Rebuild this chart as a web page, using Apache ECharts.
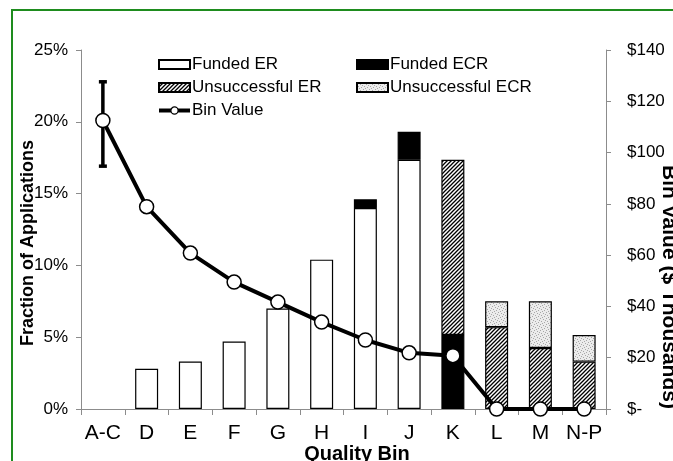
<!DOCTYPE html>
<html>
<head>
<meta charset="utf-8">
<script src="https://cdn.jsdelivr.net/npm/echarts@6/dist/echarts.min.js"></script>
<style>
html,body{margin:0;padding:0;background:#fff;}
#c{width:673px;height:461px;}
</style>
</head>
<body>
<div id="c"></div>
<script>
// ---- data ----
const categories = ['A-C','D','E','F','G','H','I','J','K','L','M','N-P'];
const fundedER      = ['-', 2.8, 3.3, 4.7, 7.0, 10.4, 14.0, 17.35, '-', '-', '-', '-'];
const fundedECR     = ['-', '-', '-', '-', '-', '-', 0.6, 1.95, 5.15, '-', '-', '-'];
const unsuccER      = ['-', '-', '-', '-', '-', '-', '-', '-', 12.2, 5.7, 4.25, 3.3];
const unsuccECR     = ['-', '-', '-', '-', '-', '-', '-', '-', '-', 1.8, 3.25, 1.85];
const binValue      = [112.5, 78.9, 60.8, 49.5, 41.7, 33.9, 26.9, 21.9, 20.8, 0, 0, 0];
const errCategory   = [0];
const errLow        = [94.7];
const errHigh       = [127.6];
const leftTicks     = [0, 5, 10, 15, 20, 25];
const rightTicks    = [0, 20, 40, 60, 80, 100, 120, 140];

// ---- patterns ----
function hatchPattern(){
  const c = document.createElement('canvas');
  c.width = 4; c.height = 4;
  const g = c.getContext('2d');
  g.fillStyle = '#fff'; g.fillRect(0,0,4,4);
  g.strokeStyle = '#000'; g.lineWidth = 1.3;
  g.beginPath();
  g.moveTo(-1,5); g.lineTo(5,-1);
  g.moveTo(-1,1); g.lineTo(1,-1);
  g.moveTo(3,5); g.lineTo(5,3);
  g.stroke();
  return c;
}
function dotPattern(){
  const c = document.createElement('canvas');
  c.width = 6; c.height = 6;
  const g = c.getContext('2d');
  g.fillStyle = '#ececec'; g.fillRect(0,0,6,6);
  g.fillStyle = '#a8a8a8';
  const pts = [[0,0],[3,1],[1,3],[4,4],[5,2],[2,5]];
  pts.forEach(p => g.fillRect(p[0],p[1],1,1));
  return c;
}
const hatch = {image: hatchPattern(), repeat: 'repeat'};
const dots = {image: dotPattern(), repeat: 'repeat'};

const FONT = '"Liberation Sans", Arial, sans-serif';
const chart = echarts.init(document.getElementById('c'), null, {renderer:'canvas'});
const barBase = {type:'bar', stack:'s', barWidth:23, yAxisIndex:0};
const legendText = {fontSize:17, color:'#000', fontFamily:FONT, lineHeight:17, padding:[0,0,0,-3]};

chart.setOption({
  animation:false,
  textStyle:{fontFamily:FONT},
  grid:{left:81, right:67, top:50, bottom:52, containLabel:false},
  legend:[
    {orient:'vertical', left:152, top:51, itemWidth:31, itemHeight:9, itemGap:6,
     textStyle:legendText,
     data:[{name:'Funded ER', icon:'rect'},{name:'Unsuccessful ER', icon:'rect'},
           {name:'Bin Value', lineStyle:{width:4, color:'#000'}, itemStyle:{color:'#fff', borderColor:'#000', borderWidth:1.2}}]},
    {orient:'vertical', left:351, top:51, itemWidth:31, itemHeight:9, itemGap:6,
     textStyle:legendText,
     data:[{name:'Funded ECR', icon:'rect'},{name:'Unsuccessful ECR', icon:'rect'}]}
  ],
  xAxis:{
    type:'category', data:categories,
    axisLine:{lineStyle:{color:'#8c8c8c', width:1}},
    axisTick:{show:true, length:6, lineStyle:{color:'#8c8c8c'}},
    axisLabel:{fontSize:21, color:'#000', margin:14, fontFamily:FONT, interval:0}
  },
  yAxis:[
    {type:'value', min:0, max:25, interval:5, position:'left',
     splitLine:{show:false},
     axisLine:{show:true, lineStyle:{color:'#8c8c8c'}},
     axisTick:{show:true, length:5, lineStyle:{color:'#8c8c8c'}},
     axisLabel:{fontSize:17, color:'#000', margin:13, fontFamily:FONT, formatter:v => v + '%'}},
    {type:'value', min:0, max:140, interval:20, position:'right',
     splitLine:{show:false},
     axisLine:{show:true, lineStyle:{color:'#8c8c8c'}},
     axisTick:{show:true, length:5, lineStyle:{color:'#8c8c8c'}},
     axisLabel:{fontSize:17, color:'#000', margin:21, fontFamily:FONT, formatter:v => v === 0 ? '$-' : '$' + v}}
  ],
  graphic:[
    {type:'rect', shape:{x:12, y:10, width:720, height:520}, style:{fill:'none', stroke:'#1e8c1e', lineWidth:2}, silent:true, z:100},
    {type:'text', x:28, y:243, rotation:Math.PI/2,
     style:{text:'Fraction of Applications', font:'bold 18px ' + FONT, fill:'#000', textAlign:'center', textVerticalAlign:'middle'}},
    {type:'text', x:669, y:287, rotation:-Math.PI/2,
     style:{text:'Bin Value ($ Thousands)', font:'bold 21px ' + FONT, fill:'#000', textAlign:'center', textVerticalAlign:'middle'}},
    {type:'text', x:357, y:444,
     style:{text:'Quality Bin', font:'bold 20px ' + FONT, fill:'#000', textAlign:'center', textVerticalAlign:'top'}}
  ],
  series:[
    Object.assign({}, barBase, {name:'Funded ER', data:fundedER,
      itemStyle:{color:'#fff', borderColor:'#000', borderWidth:1.2}}),
    Object.assign({}, barBase, {name:'Funded ECR', data:fundedECR,
      itemStyle:{color:'#000', borderColor:'#000', borderWidth:1.2}}),
    Object.assign({}, barBase, {name:'Unsuccessful ER', data:unsuccER,
      itemStyle:{color:hatch, borderColor:'#000', borderWidth:1.2}}),
    Object.assign({}, barBase, {name:'Unsuccessful ECR', data:unsuccECR,
      itemStyle:{color:dots, borderColor:'#000', borderWidth:1.2}}),
    {type:'custom', name:'err', yAxisIndex:1, z:3,
     data: errCategory.map((c,i) => [c, errLow[i], errHigh[i]]),
     encode:{x:0, y:[1,2]},
     renderItem:(params, api) => {
       const x = api.value(0), lo = api.value(1), hi = api.value(2);
       const p1 = api.coord([x, lo]), p2 = api.coord([x, hi]);
       const w = 8;
       const st = {stroke:'#000', lineWidth:3.5};
       return {type:'group', children:[
         {type:'line', shape:{x1:p1[0], y1:p1[1], x2:p2[0], y2:p2[1]}, style:st},
         {type:'line', shape:{x1:p1[0]-w/2, y1:p1[1], x2:p1[0]+w/2, y2:p1[1]}, style:st},
         {type:'line', shape:{x1:p2[0]-w/2, y1:p2[1], x2:p2[0]+w/2, y2:p2[1]}, style:st}
       ]};
     }},
    {type:'line', name:'Bin Value', yAxisIndex:1, data:binValue, z:4,
     symbol:'circle', symbolSize:14,
     lineStyle:{color:'#000', width:4},
     itemStyle:{color:'#fff', borderColor:'#000', borderWidth:1.5}}
  ]
});
</script>
</body>
</html>
